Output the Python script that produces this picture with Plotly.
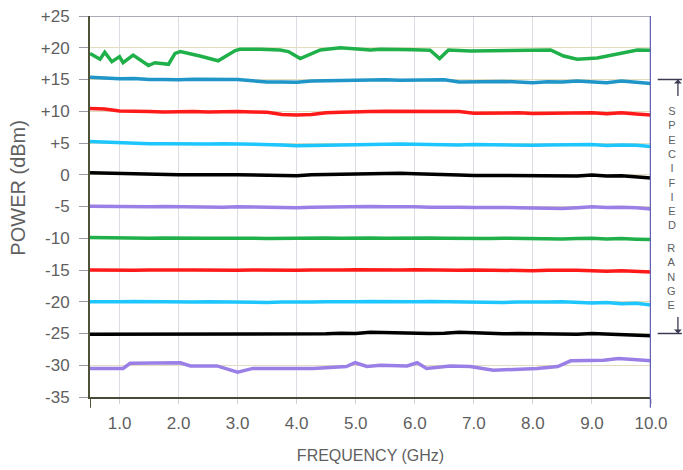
import plotly.graph_objects as go

# ---------------- data ----------------
FREQ = [0.5, 0.75, 1.0, 1.25, 1.5, 1.75, 2.0, 2.25, 2.5, 2.75, 3.0, 3.25, 3.5, 3.75,
        4.0, 4.25, 4.5, 4.75, 5.0, 5.25, 5.5, 5.75, 6.0, 6.25, 6.5, 6.75, 7.0, 7.25,
        7.5, 7.75, 8.0, 8.25, 8.5, 8.75, 9.0, 9.25, 9.5, 9.75, 10.0]

TOP_X = [0.5, 0.67, 0.75, 0.87, 1.0, 1.06, 1.23, 1.49, 1.6, 1.83, 1.94, 2.03, 2.36, 2.67,
         2.96, 3.04, 3.38, 3.72, 3.86, 4.06, 4.4, 4.74, 5.25, 5.42, 5.98, 6.26, 6.42, 6.57,
         6.94, 7.5, 8.3, 8.52, 8.75, 9.09, 9.43, 9.77, 10.0]
TOP_Y = [19.1, 18.2, 19.3, 17.8, 18.6, 17.65, 18.85, 17.2, 17.65, 17.4, 19.1, 19.4, 18.7, 17.95,
         19.55, 19.75, 19.75, 19.65, 19.4, 18.3, 19.65, 20.0, 19.65, 19.75, 19.7, 19.6, 18.3, 19.65,
         19.5, 19.6, 19.65, 18.7, 18.2, 18.4, 19.0, 19.65, 19.6]

P15 = [15.35, 15.25, 15.1, 15.15, 15.0, 15.0, 14.95, 15.05, 15.0, 15.05, 15.0, 14.8, 14.6, 14.6,
       14.55, 14.75, 14.8, 14.75, 14.85, 14.9, 14.95, 14.9, 14.95, 14.9, 14.95, 14.6, 14.65, 14.6,
       14.7, 14.6, 14.5, 14.65, 14.6, 14.75, 14.65, 14.5, 14.75, 14.55, 14.35]
P10 = [10.45, 10.35, 10.05, 9.95, 9.95, 9.9, 9.95, 9.95, 9.9, 9.95, 9.95, 9.9, 9.85, 9.5,
       9.4, 9.5, 9.75, 9.85, 9.85, 9.95, 10.0, 10.0, 10.05, 10.0, 10.0, 9.95, 9.7, 9.75,
       9.7, 9.75, 9.65, 9.7, 9.75, 9.7, 9.75, 9.6, 9.75, 9.55, 9.4]
P5 = [5.25, 5.15, 5.0, 4.95, 4.9, 4.9, 4.85, 4.9, 4.85, 4.9, 4.85, 4.85, 4.8, 4.7,
      4.55, 4.6, 4.7, 4.75, 4.8, 4.85, 4.8, 4.85, 4.8, 4.75, 4.8, 4.7, 4.75, 4.7,
      4.75, 4.7, 4.65, 4.7, 4.75, 4.7, 4.75, 4.6, 4.7, 4.65, 4.45]
P0 = [0.3, 0.25, 0.1, 0.05, 0.0, 0.05, 0.0, 0.0, -0.05, 0.0, 0.0, -0.05, -0.1, -0.05,
      -0.15, 0.0, 0.05, 0.0, 0.05, 0.1, 0.2, 0.25, 0.15, 0.05, 0.0, -0.05, -0.1, -0.1,
      -0.15, -0.1, -0.15, -0.2, -0.15, -0.2, -0.05, -0.2, -0.15, -0.3, -0.5]
M5 = [-4.95, -5.0, -5.05, -5.0, -5.05, -5.0, -5.05, -5.1, -5.05, -5.1, -5.05, -5.1, -5.15, -5.1,
      -5.2, -5.1, -5.05, -5.1, -5.05, -5.0, -5.05, -5.0, -5.05, -5.1, -5.05, -5.1, -5.15, -5.1,
      -5.15, -5.2, -5.25, -5.2, -5.3, -5.2, -5.05, -5.15, -5.1, -5.2, -5.4]
M10 = [-9.9, -9.95, -10.0, -9.95, -10.0, -9.95, -10.0, -9.95, -10.0, -10.0, -9.95, -10.0, -10.05, -10.0,
       -10.05, -10.0, -9.95, -10.0, -9.95, -9.95, -10.0, -9.95, -9.9, -9.95, -10.0, -10.05, -10.0, -10.05,
       -10.0, -10.05, -10.1, -10.05, -10.1, -10.05, -10.0, -10.1, -10.05, -10.15, -10.2]
M15 = [-15.0, -15.05, -15.0, -15.05, -15.0, -15.05, -15.0, -15.0, -15.05, -15.0, -15.05, -15.0, -15.05, -15.1,
       -15.05, -15.0, -15.05, -15.0, -14.95, -15.0, -14.95, -15.0, -14.95, -15.0, -15.0, -15.05, -15.0, -15.05,
       -15.1, -15.05, -15.1, -15.05, -15.0, -15.05, -15.1, -15.2, -15.1, -15.25, -15.3]
M20 = [-20.0, -20.05, -20.0, -19.95, -20.0, -20.05, -20.0, -20.05, -20.0, -20.05, -20.0, -20.05, -20.1, -20.05,
       -20.1, -20.05, -20.0, -20.05, -20.0, -19.95, -20.0, -20.05, -20.0, -19.95, -20.0, -20.05, -20.1, -20.05,
       -20.1, -20.05, -20.1, -20.05, -20.0, -20.05, -20.2, -20.1, -20.3, -20.25, -20.5]
M25 = [-25.1, -25.1, -25.05, -25.1, -25.05, -25.1, -25.05, -25.0, -25.05, -25.0, -25.05, -25.1, -25.05, -25.0,
       -25.05, -25.0, -25.05, -24.95, -25.0, -24.8, -24.85, -25.0, -24.95, -25.0, -24.95, -24.8, -24.9, -25.0,
       -25.05, -25.0, -25.05, -25.0, -25.05, -25.1, -25.0, -25.1, -25.15, -25.2, -25.35]

BOT_X = [0.5, 1.06, 1.18, 2.03, 2.2, 2.65, 3.0, 3.26, 4.28, 4.84, 4.99, 5.19, 5.42, 5.87, 6.04,
         6.2, 6.6, 6.94, 7.33, 8.07, 8.42, 8.64, 9.2, 9.45, 9.7, 10.0]
BOT_Y = [-30.5, -30.5, -29.7, -29.6, -30.1, -30.1, -31.1, -30.5, -30.5, -30.2, -29.6, -30.2, -30.0, -30.1, -29.6,
         -30.5, -30.1, -30.2, -30.8, -30.5, -30.2, -29.3, -29.2, -28.95, -29.1, -29.3]

X_TICKS = [1, 2, 3, 4, 5, 6, 7, 8, 9, 10]
X_LABELS = ["1.0", "2.0", "3.0", "4.0", "5.0", "6.0", "7.0", "8.0", "9.0", "10.0"]
Y_TICKS = [25, 20, 15, 10, 5, 0, -5, -10, -15, -20, -25, -30, -35]
Y_LABELS = ["+25", "+20", "+15", "+10", "+5", "0", "-5", "-10", "-15", "-20", "-25", "-30", "-35"]
SPEC_RANGE = [-25, 15]

# ---------------- figure ----------------
GREEN = "#1fb04a"
TEAL = "#1f95c8"
RED = "#ff1a1a"
CYAN = "#1ec6ff"
BLACK = "#000000"
PURPLE = "#9a80e6"
TXT = "#5f5f5f"

series = [
    (TOP_X, TOP_Y, GREEN),
    (FREQ, P15, TEAL),
    (FREQ, P10, RED),
    (FREQ, P5, CYAN),
    (FREQ, P0, BLACK),
    (FREQ, M5, PURPLE),
    (FREQ, M10, GREEN),
    (FREQ, M15, RED),
    (FREQ, M20, CYAN),
    (FREQ, M25, BLACK),
    (BOT_X, BOT_Y, PURPLE),
]

fig = go.Figure()
for xs, ys, col in series:
    fig.add_trace(go.Scatter(x=xs, y=ys, mode="lines",
                             line=dict(color=col, width=3.5), showlegend=False,
                             hoverinfo="skip"))

font_family = "Liberation Sans, Arial, sans-serif"

fig.update_layout(
    width=683, height=470,
    margin=dict(l=90, r=32, t=16, b=73, autoexpand=False),
    paper_bgcolor="white", plot_bgcolor="white",
    font=dict(family=font_family, color=TXT),
    xaxis=dict(
        range=[0.5, 10.0], tickvals=X_TICKS, ticktext=X_LABELS,
        showgrid=True, gridcolor="#dcdce4", gridwidth=1,
        showline=True, linecolor="#4a4a38", linewidth=2,
        ticks="outside", ticklen=5, tickcolor="#d0d0d8", tickwidth=1,
        ticklabelstandoff=5,
        tickfont=dict(size=17, color=TXT),
        title=dict(text="FREQUENCY (GHz)", font=dict(size=16, color=TXT), standoff=17),
        zeroline=False, automargin=False, fixedrange=True,
    ),
    yaxis=dict(
        range=[-35, 25], tickvals=Y_TICKS, ticktext=Y_LABELS,
        showgrid=True, gridcolor="#e2dcc0", gridwidth=1,
        showline=True, linecolor="#4e5236", linewidth=2,
        ticks="outside", ticklen=9, tickcolor="#9a9aa8", tickwidth=1,
        ticklabelstandoff=6,
        tickfont=dict(size=17, color=TXT),
        zeroline=False, automargin=False, fixedrange=True,
    ),
)

# y-axis title (as annotation to match its position)
fig.add_annotation(x=-0.128, y=-2.0, xref="paper", yref="y", text="POWER (dBm)",
                   textangle=-90, showarrow=False, font=dict(size=20, color=TXT),
                   xanchor="center", yanchor="middle")

# top border line at +25
fig.add_shape(type="line", xref="x", yref="y", x0=0.5, x1=10.0, y0=25, y1=25,
              line=dict(color="#8e8ea0", width=1.5), layer="above")
# right border (extends slightly below plot)
fig.add_shape(type="line", xref="x", yref="paper", x0=10.0, x1=10.0, y0=-0.028, y1=1,
              line=dict(color="#6262b0", width=2.5), layer="above")
# left axis extension below
fig.add_shape(type="line", xref="x", yref="paper", x0=0.5, x1=0.5, y0=-0.028, y1=0,
              line=dict(color="#4e5236", width=2), layer="above")

# specified range bracket
for v in SPEC_RANGE:
    fig.add_shape(type="line", xref="paper", yref="y", x0=1.012, x1=1.055, y0=v, y1=v,
                  line=dict(color="#3a3a50", width=1.5))
fig.add_annotation(x=1.048, y=SPEC_RANGE[1], xref="paper", yref="y", text="",
                   showarrow=True, arrowhead=1, arrowsize=1, arrowwidth=1.3,
                   arrowcolor="#3a3a50", ax=0, ay=18)
fig.add_annotation(x=1.048, y=SPEC_RANGE[0], xref="paper", yref="y", text="",
                   showarrow=True, arrowhead=1, arrowsize=1, arrowwidth=1.3,
                   arrowcolor="#3a3a50", ax=0, ay=-18)
fig.add_annotation(x=1.048, y=1.1, xref="paper", yref="y",
                   text="<br>".join("SPECIFIED"), showarrow=False,
                   font=dict(size=11, color=TXT), align="center", yanchor="middle")
fig.add_annotation(x=1.048, y=-15.95, xref="paper", yref="y",
                   text="<br>".join("RANGE"), showarrow=False,
                   font=dict(size=11, color=TXT), align="center", yanchor="middle")

fig.write_html("out.html", config={"displayModeBar": False},
               post_script="document.body.style.margin='0';document.body.style.overflow='hidden';")
